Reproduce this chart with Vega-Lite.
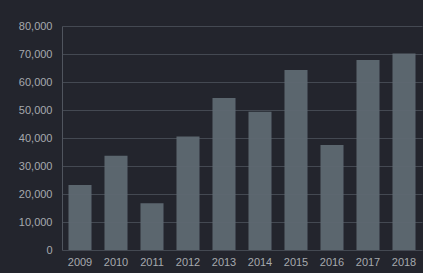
{
  "$schema": "https://vega.github.io/schema/vega-lite/v6.json",
  "autosize": "none",
  "width": 360,
  "height": 224,
  "padding": {"left": 62, "top": 26, "right": 1, "bottom": 23},
  "background": "#23252d",
  "config": {
    "view": {"stroke": null},
    "axis": {"labelFont": "Liberation Sans", "labelFontSize": 11, "labelColor": "#a6a9ad", "domainColor": "#50555e", "gridColor": "#4c525b", "gridOpacity": 0.8, "tickColor": "#50555e"}
  },
  "data": {"values": [
    {"year": "2009", "value": 23200},
    {"year": "2010", "value": 33700},
    {"year": "2011", "value": 16700},
    {"year": "2012", "value": 40500},
    {"year": "2013", "value": 54300},
    {"year": "2014", "value": 49400},
    {"year": "2015", "value": 64300},
    {"year": "2016", "value": 37500},
    {"year": "2017", "value": 67900},
    {"year": "2018", "value": 70200}
  ]},
  "mark": {"type": "bar", "color": "#5f6972", "opacity": 0.95},
  "encoding": {
    "x": {"field": "year", "type": "ordinal", "scale": {"paddingInner": 0.36, "paddingOuter": 0.18}, "axis": {"title": null, "labelAngle": 0, "ticks": false, "domain": false, "labelPadding": 6}},
    "y": {"field": "value", "type": "quantitative", "scale": {"domain": [0, 80000]}, "axis": {"title": null, "values": [0,10000,20000,30000,40000,50000,60000,70000,80000], "format": ",.0f", "labelOverlap": false, "ticks": false, "labelPadding": 10, "domain": true}}
  }
}
